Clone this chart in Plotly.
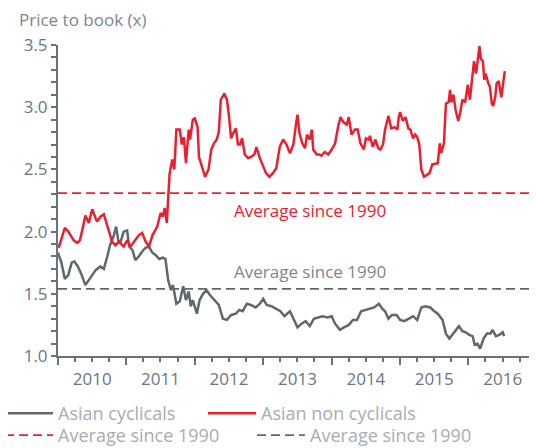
import numpy as np
import pandas as pd
import plotly.graph_objects as go

# ---- data (decimal years, price-to-book values) ----
noncyc_t = [2010.01, 2010.10, 2010.15, 2010.23, 2010.28, 2010.32, 2010.37, 2010.40, 2010.45, 2010.50,
            2010.57, 2010.62, 2010.67, 2010.74, 2010.79, 2010.84, 2010.89, 2010.96, 2011.01, 2011.06,
            2011.13, 2011.18, 2011.23, 2011.28, 2011.33, 2011.38, 2011.45, 2011.50, 2011.53, 2011.56,
            2011.59, 2011.61, 2011.63, 2011.67, 2011.70, 2011.73, 2011.78, 2011.81, 2011.84, 2011.87,
            2011.91, 2011.93, 2011.97, 2012.00, 2012.04, 2012.06, 2012.11, 2012.15, 2012.20, 2012.24,
            2012.28, 2012.32, 2012.35, 2012.38, 2012.43, 2012.47, 2012.50, 2012.53, 2012.56, 2012.60,
            2012.63, 2012.66, 2012.69, 2012.73, 2012.78, 2012.82, 2012.87, 2012.90, 2012.95, 2013.00,
            2013.04, 2013.09, 2013.14, 2013.19, 2013.24, 2013.29, 2013.34, 2013.39, 2013.44, 2013.48,
            2013.50, 2013.53, 2013.57, 2013.61, 2013.64, 2013.68, 2013.71, 2013.73, 2013.78, 2013.82,
            2013.85, 2013.90, 2013.95, 2014.00, 2014.05, 2014.10, 2014.13, 2014.17, 2014.22, 2014.25,
            2014.29, 2014.34, 2014.38, 2014.42, 2014.47, 2014.50, 2014.54, 2014.56, 2014.60, 2014.64,
            2014.68, 2014.71, 2014.75, 2014.78, 2014.83, 2014.87, 2014.92, 2014.96, 2014.98, 2015.00,
            2015.04, 2015.08, 2015.12, 2015.15, 2015.19, 2015.22, 2015.25, 2015.28, 2015.31, 2015.35,
            2015.40, 2015.43, 2015.47, 2015.52, 2015.55, 2015.58, 2015.60, 2015.64, 2015.67, 2015.71,
            2015.73, 2015.75, 2015.78, 2015.81, 2015.85, 2015.88, 2015.91, 2015.95, 2015.99, 2016.02,
            2016.06, 2016.08, 2016.11, 2016.13, 2016.16, 2016.18, 2016.21, 2016.23, 2016.25, 2016.29,
            2016.31, 2016.34, 2016.36, 2016.39, 2016.41, 2016.44, 2016.46, 2016.48, 2016.51, 2016.53]
noncyc_v = [1.87, 2.03, 2.00, 1.93, 1.91, 1.93, 2.05, 2.13, 2.07, 2.18,
            2.08, 2.12, 2.14, 2.01, 1.92, 1.89, 1.92, 1.88, 1.93, 1.88,
            1.93, 1.97, 1.99, 1.92, 1.88, 1.97, 2.04, 2.15, 2.12, 2.19,
            2.07, 2.31, 2.46, 2.58, 2.50, 2.82, 2.82, 2.70, 2.76, 2.55,
            2.82, 2.74, 2.90, 2.91, 2.84, 2.60, 2.50, 2.44, 2.50, 2.66,
            2.71, 2.74, 2.80, 3.06, 3.11, 3.06, 2.92, 2.75, 2.79, 2.83,
            2.70, 2.70, 2.75, 2.62, 2.59, 2.60, 2.62, 2.68, 2.59, 2.53,
            2.47, 2.44, 2.47, 2.51, 2.68, 2.74, 2.70, 2.63, 2.70, 2.87,
            2.94, 2.79, 2.71, 2.67, 2.78, 2.74, 2.82, 2.66, 2.62, 2.62,
            2.61, 2.64, 2.62, 2.66, 2.71, 2.86, 2.92, 2.88, 2.86, 2.92,
            2.78, 2.82, 2.82, 2.71, 2.66, 2.75, 2.74, 2.77, 2.68, 2.74,
            2.67, 2.66, 2.70, 2.82, 2.93, 2.83, 2.84, 2.82, 2.92, 2.96,
            2.89, 2.92, 2.83, 2.82, 2.75, 2.78, 2.76, 2.70, 2.50, 2.44,
            2.46, 2.47, 2.54, 2.55, 2.55, 2.71, 2.63, 2.71, 3.03, 3.04,
            3.14, 3.04, 3.10, 2.98, 2.89, 2.96, 3.06, 3.04, 3.18, 3.06,
            3.25, 3.37, 3.27, 3.35, 3.49, 3.39, 3.37, 3.22, 3.27, 3.19,
            3.17, 3.03, 3.01, 3.08, 3.19, 3.21, 3.14, 3.08, 3.21, 3.29]

cyc_t = [2010.00, 2010.05, 2010.10, 2010.15, 2010.20, 2010.24, 2010.29, 2010.34, 2010.40, 2010.45,
         2010.50, 2010.55, 2010.62, 2010.67, 2010.72, 2010.76, 2010.81, 2010.85, 2010.88, 2010.91,
         2010.96, 2011.01, 2011.04, 2011.09, 2011.13, 2011.18, 2011.23, 2011.28, 2011.33, 2011.38,
         2011.43, 2011.48, 2011.53, 2011.57, 2011.61, 2011.65, 2011.68, 2011.73, 2011.78, 2011.83,
         2011.87, 2011.91, 2011.94, 2011.97, 2012.03, 2012.07, 2012.12, 2012.17, 2012.22, 2012.28,
         2012.35, 2012.41, 2012.47, 2012.53, 2012.60, 2012.65, 2012.70, 2012.76, 2012.82, 2012.89,
         2012.95, 2013.00, 2013.05, 2013.12, 2013.19, 2013.25, 2013.31, 2013.39, 2013.45, 2013.50,
         2013.56, 2013.62, 2013.68, 2013.74, 2013.80, 2013.87, 2013.94, 2014.00, 2014.05, 2014.12,
         2014.18, 2014.25, 2014.31, 2014.37, 2014.43, 2014.49, 2014.56, 2014.62, 2014.69, 2014.74,
         2014.78, 2014.83, 2014.88, 2014.95, 2015.00, 2015.06, 2015.13, 2015.19, 2015.25, 2015.31,
         2015.37, 2015.44, 2015.50, 2015.55, 2015.62, 2015.67, 2015.72, 2015.76, 2015.81, 2015.86,
         2015.91, 2015.96, 2016.01, 2016.06, 2016.09, 2016.13, 2016.17, 2016.22, 2016.27, 2016.32,
         2016.35, 2016.40, 2016.45, 2016.50, 2016.52]
cyc_v = [1.83, 1.75, 1.62, 1.65, 1.75, 1.76, 1.72, 1.66, 1.57, 1.61,
         1.64, 1.69, 1.72, 1.70, 1.80, 1.89, 1.96, 2.04, 1.93, 1.91,
         2.00, 2.01, 1.88, 1.85, 1.77, 1.80, 1.84, 1.87, 1.88, 1.83,
         1.81, 1.78, 1.79, 1.78, 1.61, 1.53, 1.57, 1.42, 1.44, 1.56,
         1.45, 1.52, 1.40, 1.45, 1.34, 1.45, 1.50, 1.53, 1.49, 1.45,
         1.41, 1.30, 1.29, 1.33, 1.34, 1.37, 1.36, 1.42, 1.41, 1.39,
         1.42, 1.46, 1.41, 1.40, 1.38, 1.36, 1.32, 1.36, 1.29, 1.23,
         1.26, 1.28, 1.24, 1.30, 1.31, 1.32, 1.31, 1.32, 1.26, 1.21,
         1.23, 1.25, 1.29, 1.29, 1.36, 1.37, 1.38, 1.39, 1.42, 1.38,
         1.36, 1.30, 1.33, 1.33, 1.29, 1.28, 1.30, 1.32, 1.29, 1.39,
         1.40, 1.39, 1.36, 1.34, 1.29, 1.18, 1.14, 1.17, 1.21, 1.24,
         1.20, 1.19, 1.17, 1.16, 1.09, 1.10, 1.06, 1.14, 1.18, 1.18,
         1.21, 1.16, 1.17, 1.19, 1.16]

avg_noncyc = 2.31
avg_cyc = 1.54
x_range = ["2010-01-01", "2017-01-01"]
y_range = [1.0, 3.5]

RED = "#e9202f"
GREY = "#5e686f"
AXIS = "#68727a"
TICKTXT = "#6c767d"
LEGTXT = "#a6adb3"
FONT = "Open Sans"


def to_dates(ts):
    base = pd.Timestamp("2010-01-01")
    return base + pd.to_timedelta((np.array(ts) - 2010.0) * 365.25, unit="D")


fig = go.Figure()
fig.add_trace(go.Scatter(x=to_dates(cyc_t), y=cyc_v, mode="lines", name="Asian cyclicals",
                         line=dict(color=GREY, width=2.5), legend="legend"))
fig.add_trace(go.Scatter(x=to_dates(noncyc_t), y=noncyc_v, mode="lines", name="Asian non cyclicals",
                         line=dict(color=RED, width=2.5), legend="legend2"))
fig.add_trace(go.Scatter(x=x_range, y=[avg_noncyc, avg_noncyc], mode="lines", name="Average since 1990",
                         line=dict(color=RED, width=1.8, dash="9px,5px"), legend="legend3"))
fig.add_trace(go.Scatter(x=x_range, y=[avg_cyc, avg_cyc], mode="lines", name="Average since 1990",
                         line=dict(color=GREY, width=1.8, dash="9px,5px"), legend="legend4"))

fig.add_annotation(x="2013-09-05", y=2.17, xref="x", yref="y", text="Average since 1990",
                   showarrow=False, font=dict(color=RED, size=17), xanchor="center", yanchor="middle")
fig.add_annotation(x="2013-09-05", y=1.68, xref="x", yref="y", text="Average since 1990",
                   showarrow=False, font=dict(color="#7d868c", size=17), xanchor="center", yanchor="middle")
fig.add_annotation(x=-41 / 479, y=1 + 25 / 311, xref="paper", yref="paper", text="Price to book (x)",
                   showarrow=False, font=dict(color="#7d868c", size=17), xanchor="left", yanchor="middle")

leg_common = dict(orientation="h", xanchor="left", yanchor="top", traceorder="normal",
                  font=dict(size=18, color=LEGTXT), itemwidth=48, tracegroupgap=0,
                  bgcolor="rgba(0,0,0,0)")

# page has an 8px body margin, so the figure is 8px smaller on each side
fig.update_layout(
    width=529, height=440,
    margin=dict(l=50, r=0, t=37, b=92, autoexpand=False),
    paper_bgcolor="white", plot_bgcolor="white",
    font=dict(family=FONT, color=TICKTXT, size=17),
    showlegend=True,
    legend=dict(x=-0.121, y=-0.1254, **leg_common),
    legend2=dict(x=0.3028, y=-0.1254, **leg_common),
    legend3=dict(x=-0.121, y=-0.196, **leg_common),
    legend4=dict(x=0.4051, y=-0.196, **leg_common),
    hovermode=False,
)
fig.update_xaxes(
    type="date", range=x_range, showgrid=False, zeroline=False,
    showline=True, linecolor=AXIS, linewidth=2,
    tick0="2010-01-01", dtick="M12", tickformat="%Y", ticklabelmode="period",
    ticks="outside", ticklen=7, tickwidth=2, tickcolor=AXIS,
    tickfont=dict(size=17, color=TICKTXT),
    minor=dict(dtick="M3", ticks="outside", ticklen=4, tickwidth=2, tickcolor=AXIS, showgrid=False),
)
fig.update_yaxes(
    range=y_range, showgrid=False, zeroline=False,
    showline=True, linecolor=AXIS, linewidth=2,
    tick0=1.0, dtick=0.5, tickformat=".1f",
    ticks="outside", ticklen=5, tickwidth=2, tickcolor=AXIS,
    tickfont=dict(size=17, color=TICKTXT),
    minor=dict(dtick=0.1, ticks="outside", ticklen=5, tickwidth=2, tickcolor=AXIS, showgrid=False),
)

fig.write_html("out.html")
